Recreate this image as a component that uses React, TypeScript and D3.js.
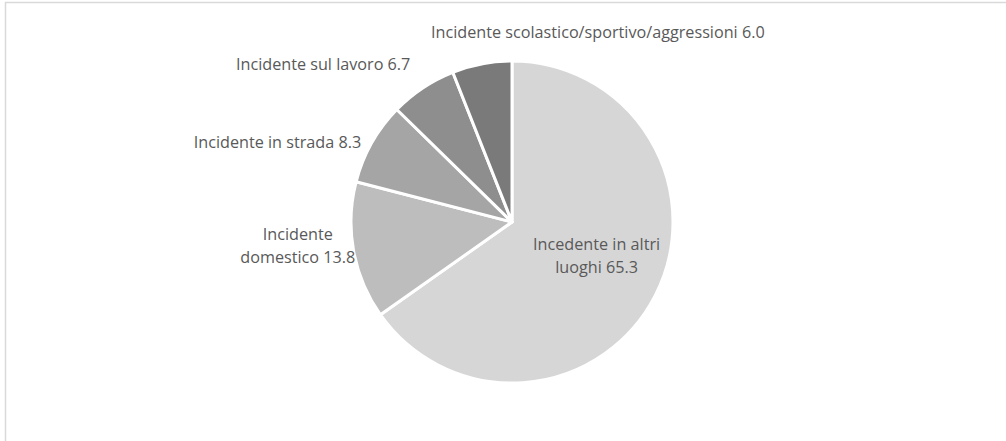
import * as d3 from "d3";

const categories = [
  "Incedente in altri luoghi",
  "Incidente domestico",
  "Incidente in strada",
  "Incidente sul lavoro",
  "Incidente scolastico/sportivo/aggressioni",
];
const values = [65.3, 13.8, 8.3, 6.7, 6.0];
const sliceColors = ["#d6d6d6", "#bdbdbd", "#a5a5a5", "#8e8e8e", "#7a7a7a"];

// label text lines (as shown on the chart)
const labelLines = [
  ["Incedente in altri", "luoghi 65.3"],
  ["Incidente", "domestico 13.8"],
  ["Incidente in strada 8.3"],
  ["Incidente sul lavoro 6.7"],
  ["Incidente scolastico/sportivo/aggressioni 6.0"],
];

// placement: radius factor, anchor, nudge
const labelPlace = [
  { k: 0.55, anchor: "middle", dx: 6, dy: -7 },
  { k: 1.34, anchor: "middle", dx: -2, dy: -15 },
  { k: 1.075, anchor: "end", dx: 0, dy: 5 },
  { k: 1.14, anchor: "end", dx: 0, dy: -5 },
  { k: 1.2, anchor: "middle", dx: 122, dy: 0 },
];

export default function App() {
  const width = 1006;
  const height = 441;
  const cx = 512;
  const cy = 222;
  const r = 161;
  const lineH = 23;

  const pie = d3
    .pie<number>()
    .sort(null)
    .value((d) => d);
  const arcs = pie(values);
  const arcGen = d3.arc<d3.PieArcDatum<number>>().innerRadius(0).outerRadius(r);

  return (
    <svg
      width={width}
      height={height}
      style={{ position: "absolute", left: 0, top: 0 }}
      fontFamily="'Open Sans', sans-serif"
    >
      <rect x={0} y={0} width={width} height={height} fill="#fff" />
      <rect
        x={5.5}
        y={2.5}
        width={width + 20}
        height={height + 20}
        fill="none"
        stroke="#d9d9d9"
        strokeWidth={1.5}
      />
      <g transform={`translate(${cx},${cy})`}>
        {arcs.map((a, i) => (
          <path
            key={categories[i]}
            d={arcGen(a) || ""}
            fill={sliceColors[i]}
            stroke="#fff"
            strokeWidth={3}
            strokeLinejoin="round"
          />
        ))}
        {arcs.map((a, i) => {
          const mid = (a.startAngle + a.endAngle) / 2;
          const p = labelPlace[i];
          const rr = r * p.k;
          const x = Math.sin(mid) * rr + p.dx;
          const y = -Math.cos(mid) * rr + p.dy;
          const lines = labelLines[i];
          const y0 = y - ((lines.length - 1) * lineH) / 2;
          return (
            <text
              key={"l" + i}
              textAnchor={p.anchor}
              fontSize={16.2}
              fill="#595959"
            >
              {lines.map((t, j) => (
                <tspan key={j} x={x} y={y0 + j * lineH} dy="0.35em">
                  {t}
                </tspan>
              ))}
            </text>
          );
        })}
      </g>
    </svg>
  );
}
